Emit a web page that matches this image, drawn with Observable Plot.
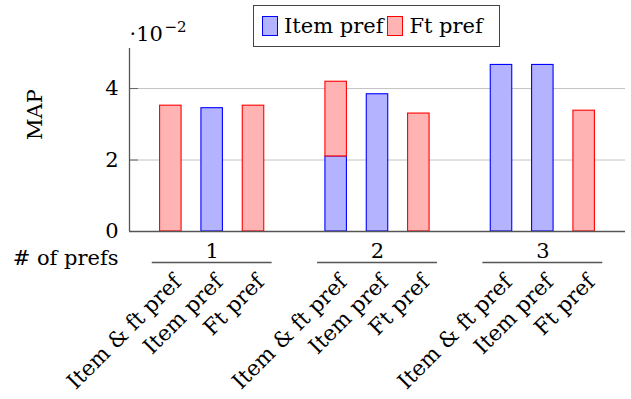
<!DOCTYPE html>
<html>
<head>
<meta charset="utf-8">
<script src="https://cdn.jsdelivr.net/npm/d3@7"></script>
<script src="https://cdn.jsdelivr.net/npm/@observablehq/plot@0.6"></script>
<style>
  html, body { margin: 0; padding: 0; background: #fff; }
  #wrap { position: relative; width: 631px; height: 399px; font-family: "DejaVu Serif", serif; }
  #legend { position: absolute; left: 253px; top: 5px; width: 245px; height: 40px; border: 1px solid #444;
            display: flex; align-items: center; font-size: 21px; color: #000; box-sizing: content-box; }
  .sw { display: inline-block; width: 14px; height: 18px; margin-left: 8px; margin-right: 6px; }
</style>
</head>
<body>
<div id="wrap"></div>
<script>
const groups = ["1", "2", "3"];
const bars = ["Item & ft pref", "Item pref", "Ft pref"];
const seriesNames = ["Item pref", "Ft pref"];
// values in units of 10^-2, per group, per bar
const itemValues = [[0, 3.45, 0], [2.10, 3.84, 0], [4.66, 4.66, 0]];
const ftValues = [[3.52, 0, 3.52], [2.09, 0, 3.30], [0, 0, 3.38]];
const yTicks = [0, 2, 4];
const fills = ["#b3b3ff", "#ffb3b3"];
const strokes = ["#0000ff", "#ff0000"];

const rows = [];
const labels = [];
groups.forEach((g, gi) => {
  bars.forEach((b, bi) => {
    const pos = gi * 4 + bi + 1;
    labels.push({pos, label: b});
    const it = itemValues[gi][bi], ft = ftValues[gi][bi];
    if (it > 0) rows.push({pos, s: 0, y1: 0, y2: it});
    if (ft > 0) rows.push({pos, s: 1, y1: it, y2: it + ft});
  });
});
const groupRows = groups.map((g, gi) => ({g, c: gi * 4 + 2}));
const hw = 0.26;

const chart = Plot.plot({
  width: 631, height: 399,
  marginLeft: 129, marginRight: 6, marginTop: 48, marginBottom: 168,
  style: {fontFamily: "DejaVu Serif", fontSize: "21px", background: "#fff", color: "#000"},
  x: {domain: [0, 12], axis: null},
  y: {domain: [0, 5.12], axis: null},
  marks: [
    Plot.gridY([2, 4], {stroke: "#c4c4c4", strokeOpacity: 1, strokeWidth: 1}),
    Plot.axisY([2, 4], {tickSize: -9, stroke: "#666", tickFormat: () => "", label: null}),
    Plot.axisY(yTicks, {tickSize: 0, tickPadding: 11, fontSize: 21, label: null}),
    Plot.rectY(rows, {
      x1: d => d.pos - hw, x2: d => d.pos + hw, y1: "y1", y2: "y2",
      fill: d => fills[d.s], stroke: d => strokes[d.s], strokeWidth: 1.1, inset: 0
    }),
    Plot.ruleX([0], {y1: 0, y2: 5.12, stroke: "#555", strokeWidth: 1.3}),
    Plot.ruleY([0], {x1: 0, x2: 12, stroke: "#555", strokeWidth: 1.3}),
    Plot.text(["MAP"], {frameAnchor: "left", rotate: -90, dx: -94, fontSize: 21, lineAnchor: "middle"}),
    Plot.text(["·10"], {frameAnchor: "top-left", textAnchor: "start", lineAnchor: "bottom", dx: 0, dy: -8, fontSize: 21}),
    Plot.text(["−2"], {frameAnchor: "top-left", textAnchor: "start", lineAnchor: "bottom", dx: 35, dy: -17, fontSize: 15}),
    Plot.text(groupRows, {x: "c", text: "g", frameAnchor: "bottom", lineAnchor: "bottom", dy: 26, fontSize: 21}),
    Plot.ruleY(groupRows, {y: 0, x1: d => d.c - 1.45, x2: d => d.c + 1.45, dy: 31, stroke: "#555", strokeWidth: 1.3}),
    Plot.text(["# of prefs"], {frameAnchor: "bottom-left", textAnchor: "end", lineAnchor: "bottom", dx: -11, dy: 33, fontSize: 21}),
    Plot.text(labels, {x: "pos", text: "label", frameAnchor: "bottom", textAnchor: "end", lineAnchor: "middle", rotate: -45, dx: 7, dy: 47, fontSize: 21.5})
  ]
});
const wrap = document.getElementById("wrap");
wrap.appendChild(chart);
const leg = document.createElement("div");
leg.id = "legend";
seriesNames.forEach((n, i) => {
  const sw = document.createElement("span");
  sw.className = "sw";
  sw.style.background = fills[i];
  sw.style.border = "1px solid " + strokes[i];
  if (i > 0) sw.style.marginLeft = "4px";
  leg.appendChild(sw);
  const t = document.createElement("span");
  t.textContent = n;
  leg.appendChild(t);
});
wrap.appendChild(leg);
</script>
</body>
</html>
